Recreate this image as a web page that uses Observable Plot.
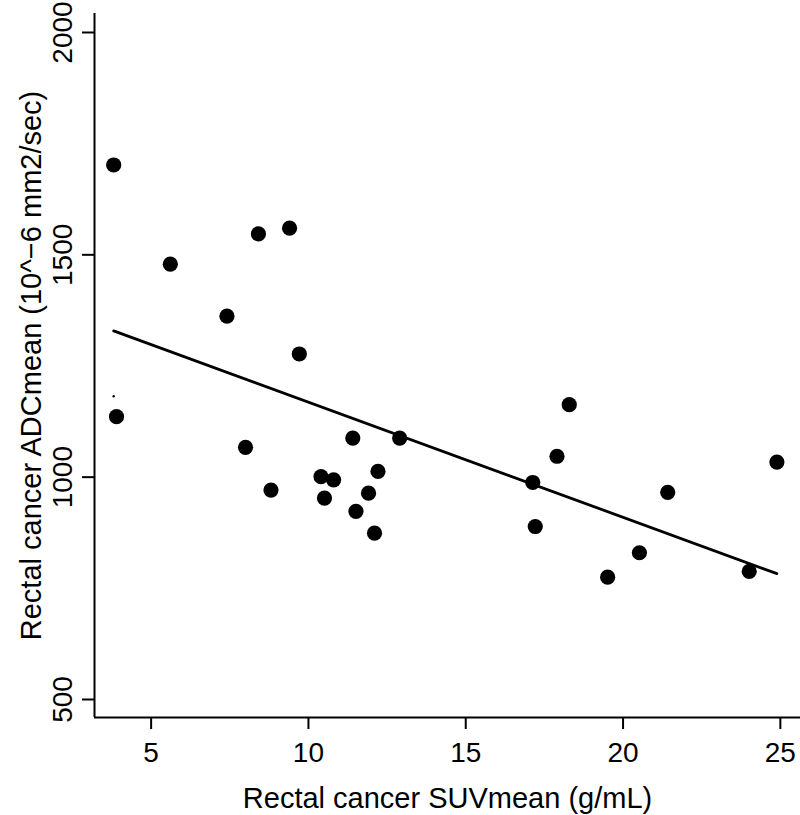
<!DOCTYPE html>
<html>
<head>
<meta charset="utf-8">
<script src="https://cdn.jsdelivr.net/npm/d3@7"></script>
<script src="https://cdn.jsdelivr.net/npm/@observablehq/plot@0.6"></script>
<style>
  html, body { margin: 0; padding: 0; background: #fff; }
  #chart { width: 800px; height: 815px; }
</style>
</head>
<body>
<div id="chart"></div>
<script>
// Rectal cancer SUVmean (g/mL)
const suvMean = [3.81, 3.90, 5.61, 7.41, 8.00, 8.41, 8.81, 9.40, 9.71, 10.40, 10.51, 10.80, 11.41, 11.51,
                 11.91, 12.10, 12.21, 12.90, 17.13, 17.21, 17.90, 18.29, 19.51, 20.52, 21.42, 24.01, 24.89];
// Rectal cancer ADCmean (10^-6 mm2/sec)
const adcMean = [1702, 1136, 1479, 1362, 1067, 1547, 971, 1560, 1277, 1001, 953, 994, 1088, 923,
                 964, 874, 1013, 1088, 988, 889, 1047, 1163, 775, 830, 966, 788, 1034];
// fitted regression line
const fitIntercept = 1427.7;
const fitSlope = -25.9;
// small stray mark in the source figure
const strayX = [3.81];
const strayY = [1182];

const xTicks = [5, 10, 15, 20, 25];
const yTicks = [500, 1000, 1500, 2000];
const xDomain = [3.2, 25.64];
const yDomain = [459.5, 2042.7];
const xTitle = "Rectal cancer SUVmean (g/mL)";
const yTitle = "Rectal cancer ADCmean (10^\u22126 mm2/sec)";

const points = suvMean.map((x, i) => ({x, y: adcMean[i]}));
const xMinData = d3.min(suvMean), xMaxData = d3.max(suvMean);
const fitLine = [xMinData, xMaxData].map(x => ({x, y: fitIntercept + fitSlope * x}));
const stray = strayX.map((x, i) => ({x, y: strayY[i]}));

const chart = Plot.plot({
  width: 800,
  height: 815,
  marginLeft: 94,
  marginRight: 0,
  marginTop: 13,
  marginBottom: 98,
  style: {fontFamily: "'Liberation Sans', Arial, Helvetica, sans-serif", fontSize: "28px", background: "#fff", color: "#000"},
  x: {domain: xDomain, axis: null},
  y: {domain: yDomain, axis: null},
  marks: [
    Plot.ruleX([xDomain[0]], {stroke: "#000", strokeWidth: 2}),
    Plot.ruleY([yDomain[0]], {stroke: "#000", strokeWidth: 2}),
    Plot.axisX({ticks: xTicks, tickSize: 12, tickPadding: 13, strokeWidth: 2, label: null, fontSize: 28}),
    Plot.axisY({ticks: yTicks, tickSize: 12, tickFormat: () => "", strokeWidth: 2, label: null}),
    Plot.text(yTicks, {y: d => d, text: d => String(d), frameAnchor: "left", rotate: -90, lineAnchor: "top", textAnchor: "middle", dx: -42, fontSize: 28}),
    Plot.text([xTitle], {frameAnchor: "bottom", lineAnchor: "top", textAnchor: "middle", dy: 70, fontSize: 29}),
    Plot.text([yTitle], {frameAnchor: "left", rotate: -90, lineAnchor: "top", textAnchor: "middle", dx: -74, fontSize: 29}),
    Plot.line(fitLine, {x: "x", y: "y", stroke: "#000", strokeWidth: 2.8}),
    Plot.dot(stray, {x: "x", y: "y", r: 1.2, fill: "#000"}),
    Plot.dot(points, {x: "x", y: "y", r: 7.6, fill: "#000", stroke: "none"})
  ]
});
document.getElementById("chart").appendChild(chart);
</script>
</body>
</html>
